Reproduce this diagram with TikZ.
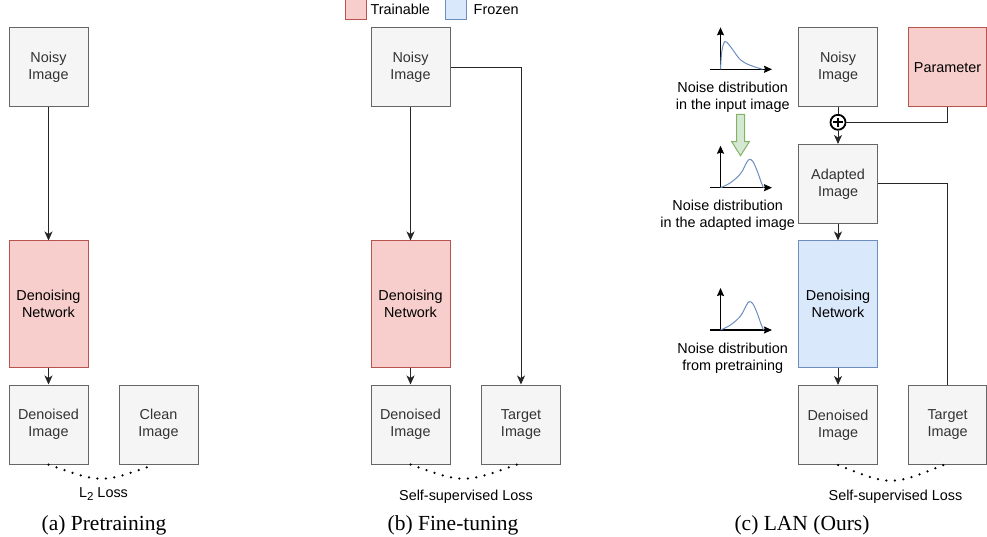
\documentclass[tikz,border=0pt]{standalone}
\usepackage{fontspec}
\setmainfont{Liberation Serif}
\setsansfont{Liberation Sans}
\usepackage{tikz}
\usetikzlibrary{arrows.meta,positioning,calc}
\definecolor{BoxGray}{HTML}{F5F5F5}
\definecolor{BoxGrayLine}{HTML}{666666}
\definecolor{BoxText}{HTML}{333333}
\definecolor{SoftRed}{HTML}{F8CECC}
\definecolor{RedLine}{HTML}{B85450}
\definecolor{SoftBlue}{HTML}{DAE8FC}
\definecolor{BlueLine}{HTML}{6C8EBF}
\definecolor{SoftGreen}{HTML}{D5E8D4}
\definecolor{GreenLine}{HTML}{82B366}
\newcommand{\diagfont}{\sffamily\fontsize{14.4}{17}\selectfont}
\newcommand{\capfont}{\rmfamily\fontsize{21.5}{25}\selectfont}
\tikzset{
  imgbox/.style={draw=BoxGrayLine,fill=BoxGray,text=BoxText,line width=1pt,
    minimum width=79pt,minimum height=79pt,inner sep=0pt,align=center,font=\diagfont},
  trainnet/.style={imgbox,draw=RedLine,fill=SoftRed,text=black,minimum height=126pt},
  frozennet/.style={imgbox,draw=BlueLine,fill=SoftBlue,text=black,minimum height=126pt},
  parambox/.style={imgbox,draw=RedLine,fill=SoftRed,text=black,minimum width=78pt},
  keybox/.style={draw=#1,line width=1pt,minimum size=21pt,inner sep=0pt},
  keytext/.style={font=\diagfont,inner sep=0pt},
  plaintext/.style={font=\diagfont,inner sep=0pt,align=center},
  caption/.style={font=\capfont,inner sep=0pt},
  addnode/.style={circle,draw,line width=1.8pt,minimum size=15pt,inner sep=0pt,
    path picture={
      \draw[line width=1.6pt] ($(path picture bounding box.center)+(-4.7,0)$) -- ++(9.4,0);
      \draw[line width=1.6pt] ($(path picture bounding box.center)+(0,-4.7)$) -- ++(0,9.4);}},
  arrow/.style={-{Stealth[length=9pt,width=8pt,inset=2.5pt]},line width=1pt,black!85},
  link/.style={line width=1pt,black!85},
  lossline/.style={line width=2.5pt,line cap=round,dash pattern=on 0pt off 8.5pt},
  axisline/.style={-{Stealth[length=8pt,width=7pt,inset=1pt]},line width=1.3pt},
  curveline/.style={draw=BlueLine,line width=1pt},
  greenarrow/.style={draw=GreenLine,fill=SoftGreen,line width=1pt}
}

\begin{document}
\begin{tikzpicture}[x=1pt,y=-1pt]
  \useasboundingbox (0,0) rectangle (987,537);

  % legend
  \node[keybox=RedLine,fill=SoftRed] (trainkey) at (355.8,9.5) {};
  \node[keytext,right=3.5pt of trainkey] (traintext) {Trainable};
  \node[keybox=BlueLine,fill=SoftBlue] (frozenkey) at (455.5,9.5) {};
  \node[keytext,right=7pt of frozenkey] (frozentext) {Frozen};

  % (a) pretraining
  \node[imgbox] (noisyA) at (48.5,67.5) {Noisy\\Image};
  \node[trainnet] (netA) at (48.5,304) {Denoising\\Network};
  \node[imgbox] (denA) at (48.5,424.5) {Denoised\\Image};
  \node[imgbox] (cleanA) at (158.5,424.5) {Clean\\Image};
  \draw[arrow] (noisyA) -- (netA);
  \draw[arrow] (netA) -- (denA);
  \draw[lossline] (denA.south) .. controls ($(denA.south)!0.5!(cleanA.south)+(-2,19)$) .. ($(cleanA.south)+(-4,0)$);
  \node[plaintext,anchor=base] (lossA) at (103.5,497)
    {L\raisebox{-3.5pt}{\fontsize{11.5}{12}\selectfont 2} Loss};
  \node[caption,anchor=base] (capA) at (104,530.5) {(a) Pretraining};

  % (b) fine-tuning
  \node[imgbox] (noisyB) at (410.5,67.5) {Noisy\\Image};
  \node[trainnet] (netB) at (410.5,304) {Denoising\\Network};
  \node[imgbox] (denB) at (410.5,424.5) {Denoised\\Image};
  \node[imgbox] (targetB) at (521,424.5) {Target\\Image};
  \draw[arrow] (noisyB) -- (netB);
  \draw[arrow] (netB) -- (denB);
  \draw[arrow] (noisyB.east) -| (targetB.north);
  \draw[lossline] (denB.south) .. controls ($(denB.south)!0.5!(targetB.south)+(-2,19)$) .. ($(targetB.south)+(-4,0)$);
  \node[plaintext,anchor=base] (lossB) at (466,500) {Self-supervised Loss};
  \node[caption,anchor=base] (capB) at (453,530.5) {(b) Fine-tuning};

  % (c) LAN
  \node[imgbox] (noisyC) at (838,67.5) {Noisy\\Image};
  \node[parambox] (param) at (947.5,67.5) {Parameter};
  \node[addnode] (add) at (838,122.3) {};
  \node[imgbox] (adapted) at (838,184) {Adapted\\Image};
  \node[frozennet] (netC) at (838,304) {Denoising\\Network};
  \node[imgbox] (denC) at (838,425) {Denoised\\Image};
  \node[imgbox,minimum width=78pt] (targetC) at (947.5,425) {Target\\Image};
  \draw[link] (noisyC) -- (add);
  \draw[link] (param.south) |- (add);
  \draw[arrow] (add) -- (adapted);
  \draw[arrow] (adapted) -- (netC);
  \draw[arrow] (netC) -- (denC);
  \draw[link] (adapted.east) -| (targetC.north);
  \draw[lossline] (denC.south) .. controls ($(denC.south)!0.5!(targetC.south)+(-2,21)$) .. ($(targetC.south)+(-4,0)$);
  \node[plaintext,anchor=base] (lossC) at (895.5,500.5) {Self-supervised Loss};
  \node[caption,anchor=base] (capC) at (802,530.5) {(c) LAN (Ours)};

  % noise distributions
  \foreach \oy in {69.3,187.7,330}{
    \draw[axisline] (710,\oy) -- (772,\oy);
    \draw[axisline] (720.5,\oy) -- (720.5,\oy-42);}
  \draw[curveline,shift={(720.5,69.3)}] plot[smooth,tension=0.6] coordinates
    {(0,0) (1.3,-18) (4.3,-27.7) (8.5,-24.5) (13,-18.5) (20,-9.5) (29,-4.3) (42,0)};
  \foreach \oy in {187.7,330}
    \draw[curveline,shift={(720.5,\oy)}] plot[smooth,tension=0.6] coordinates
      {(0,0) (10,-5) (20,-14) (26,-25) (29,-28.3) (32.5,-26) (37,-16) (40.5,-6) (43,0)};
  \node[plaintext] (distIn) at (732.7,97) {Noise distribution\\in the input image};
  \node[plaintext] (distAd) at (727.7,215) {Noise distribution\\in the adapted image};
  \node[plaintext] (distPre) at (732.7,358.2) {Noise distribution\\from pretraining};
  \draw[greenarrow] (736.5,114.3) -- (744.5,114.3) -- (744.5,141.7) -- (749.3,141.7)
    -- (740.5,155.7) -- (731.7,141.7) -- (736.5,141.7) -- cycle;
\end{tikzpicture}
\end{document}
